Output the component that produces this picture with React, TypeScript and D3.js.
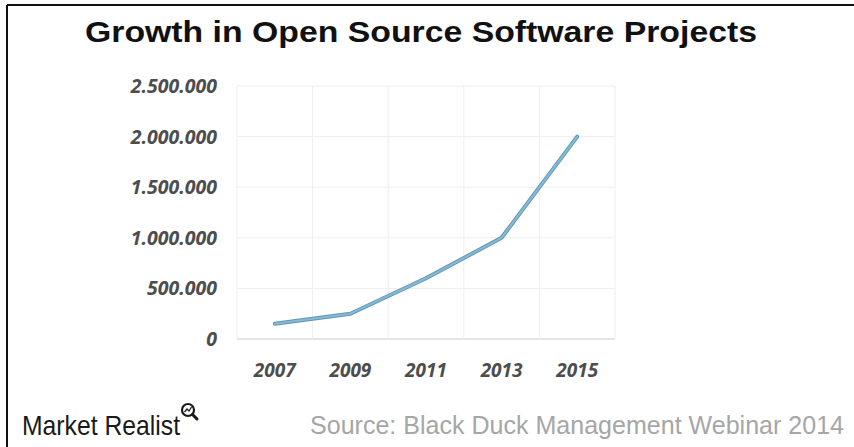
import React from "react";
import * as d3 from "d3";

const years = ["2007", "2009", "2011", "2013", "2015"];
const projects = [150000, 250000, 600000, 1000000, 2000000];
const yTicks = [0, 500000, 1000000, 1500000, 2000000, 2500000];
const titleText = "Growth in Open Source Software Projects";
const sourceText = "Source: Black Duck Management Webinar 2014";
const brandText = "Market Realist";

const W = 854;
const H = 447;
const plot = { left: 237, right: 615, top: 86, bottom: 339 };

const fmt = (v: number) =>
  v === 0 ? "0" : d3.format(",")(v).replace(/,/g, ".");

export default function App() {
  const x = d3
    .scaleBand<string>()
    .domain(years)
    .range([plot.left, plot.right])
    .padding(0);
  const y = d3
    .scaleLinear()
    .domain([0, 2500000])
    .range([plot.bottom, plot.top]);
  const line = d3
    .line<number>()
    .x((_, i) => (x(years[i]) as number) + x.bandwidth() / 2)
    .y((d) => y(d));
  const path = line(projects) || "";
  const labelFont = "'Open Sans', 'DejaVu Sans', sans-serif";

  return (
    <div style={{ position: "absolute", left: 0, top: 0 }}>
      <svg width={W} height={H} style={{ display: "block", background: "#fff" }}>
        <rect x={0} y={0} width={W} height={H} fill="#fff" />
        {/* frame */}
        <line x1={7} y1={5} x2={W} y2={5} stroke="#111" strokeWidth={2} />
        <line x1={7} y1={5} x2={7} y2={H} stroke="#111" strokeWidth={2} />

        <text
          x={421}
          y={42}
          textAnchor="middle"
          fontFamily="'Liberation Sans', Arial, sans-serif"
          fontWeight="bold"
          fontSize={30}
          fill="#111"
          textLength={672}
          lengthAdjust="spacingAndGlyphs"
        >
          {titleText}
        </text>

        {/* horizontal gridlines */}
        {yTicks.map((t) => (
          <line
            key={"h" + t}
            x1={plot.left}
            x2={plot.right}
            y1={y(t)}
            y2={y(t)}
            stroke={t === 0 ? "#dcdcdc" : "#eeeeee"}
            strokeWidth={t === 0 ? 1.5 : 1}
          />
        ))}
        {/* vertical gridlines */}
        {[...years.map((yr) => x(yr) as number), plot.right].map((gx, i) => (
          <line
            key={"v" + i}
            x1={gx}
            x2={gx}
            y1={plot.top}
            y2={plot.bottom}
            stroke="#eeeeee"
            strokeWidth={1}
          />
        ))}

        {/* y labels */}
        {yTicks.map((t) => (
          <text
            key={"yl" + t}
            x={217}
            y={y(t)}
            dy="0.36em"
            textAnchor="end"
            fontFamily={labelFont}
            fontWeight="bold"
            fontStyle="italic"
            fontSize={19.5}
            fill="#4d4d4d"
          >
            {fmt(t)}
          </text>
        ))}

        {/* x labels */}
        {years.map((yr) => (
          <text
            key={"xl" + yr}
            x={(x(yr) as number) + x.bandwidth() / 2}
            y={377}
            textAnchor="middle"
            fontFamily={labelFont}
            fontWeight="bold"
            fontStyle="italic"
            fontSize={19}
            fill="#4d4d4d"
          >
            {yr}
          </text>
        ))}

        {/* series line */}
        <path d={path} fill="none" stroke="#5f95b5" strokeWidth={4} strokeLinejoin="round" strokeLinecap="round" />
        <path d={path} fill="none" stroke="#86bad6" strokeWidth={2} strokeLinejoin="round" strokeLinecap="round" />

        {/* footer */}
        <text
          x={22}
          y={435}
          fontFamily="'Liberation Sans Narrow', 'Liberation Sans', Arial, sans-serif"
          fontSize={28}
          fill="#1a1a1a"
          textLength={158}
          lengthAdjust="spacingAndGlyphs"
        >
          {brandText}
        </text>
        <g transform="translate(188,410)">
          <circle cx={0} cy={0} r={6} fill="none" stroke="#1a1a1a" strokeWidth={2.2} />
          <line x1={4.5} y1={4.5} x2={9} y2={9} stroke="#1a1a1a" strokeWidth={3} strokeLinecap="round" />
          <path d="M-3.5,2 L-1,-1 L1,1 L3.5,-3" fill="none" stroke="#1a1a1a" strokeWidth={1.3} />
        </g>
        <text
          x={310}
          y={434}
          fontFamily="'Liberation Sans Narrow', 'Liberation Sans', Arial, sans-serif"
          fontSize={25.5}
          fill="#a6a6a6"
          textLength={534}
          lengthAdjust="spacingAndGlyphs"
        >
          {sourceText}
        </text>
      </svg>
    </div>
  );
}
